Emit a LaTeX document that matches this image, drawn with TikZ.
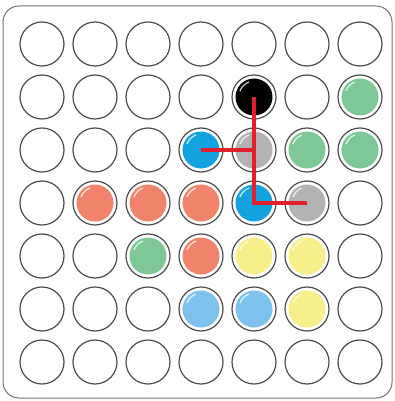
\documentclass[tikz,border=0pt]{standalone}
\usetikzlibrary{calc}
\begin{document}
\begin{tikzpicture}[x=1pt,y=-1pt]
\definecolor{salmon}{HTML}{F2836B}
\definecolor{pegreen}{HTML}{7DC896}
\definecolor{pegblue}{HTML}{12A2E0}
\definecolor{peggray}{HTML}{B2B2B4}
\definecolor{pegyellow}{HTML}{F7EF8A}
\definecolor{peglight}{HTML}{7CC2EC}
\definecolor{linkred}{HTML}{E0202C}
\tikzset{
  hole/.style={circle, draw=black!70, line width=1.2pt, minimum size=44pt, inner sep=0pt},
  link/.style={draw=linkred, line width=3.5pt},
  board/.style={draw=black!55, line width=1pt, rounded corners=16pt, fill=white}
}
\useasboundingbox (0,0) rectangle (395,401);
\path[board] (3,6) rectangle (392,398);
\foreach \r in {0,...,6}{
  \foreach \c in {0,...,6}{
    \node[hole] (c\r\c) at (42+53*\c, 44+53*\r) {};
  }
}
\foreach \r/\c/\col in {1/4/black, 1/6/pegreen, 2/3/pegblue, 2/4/peggray, 2/5/pegreen, 2/6/pegreen,
  3/1/salmon, 3/2/salmon, 3/3/salmon, 3/4/pegblue, 3/5/peggray,
  4/2/pegreen, 4/3/salmon, 4/4/pegyellow, 4/5/pegyellow,
  5/3/peglight, 5/4/peglight, 5/5/pegyellow}{
  \fill[\col] (c\r\c.center) circle[radius=18.5];
  \draw[white, line width=1.2pt, opacity=0.8] ($(c\r\c.center)+(-14,-6)$) arc[start angle=200, end angle=250, radius=15];
}
\draw[link] (c14.center) -- (c34.center) -- (c35.center);
\draw[link] (c23.center) -- (c24.center);
\end{tikzpicture}
\end{document}
